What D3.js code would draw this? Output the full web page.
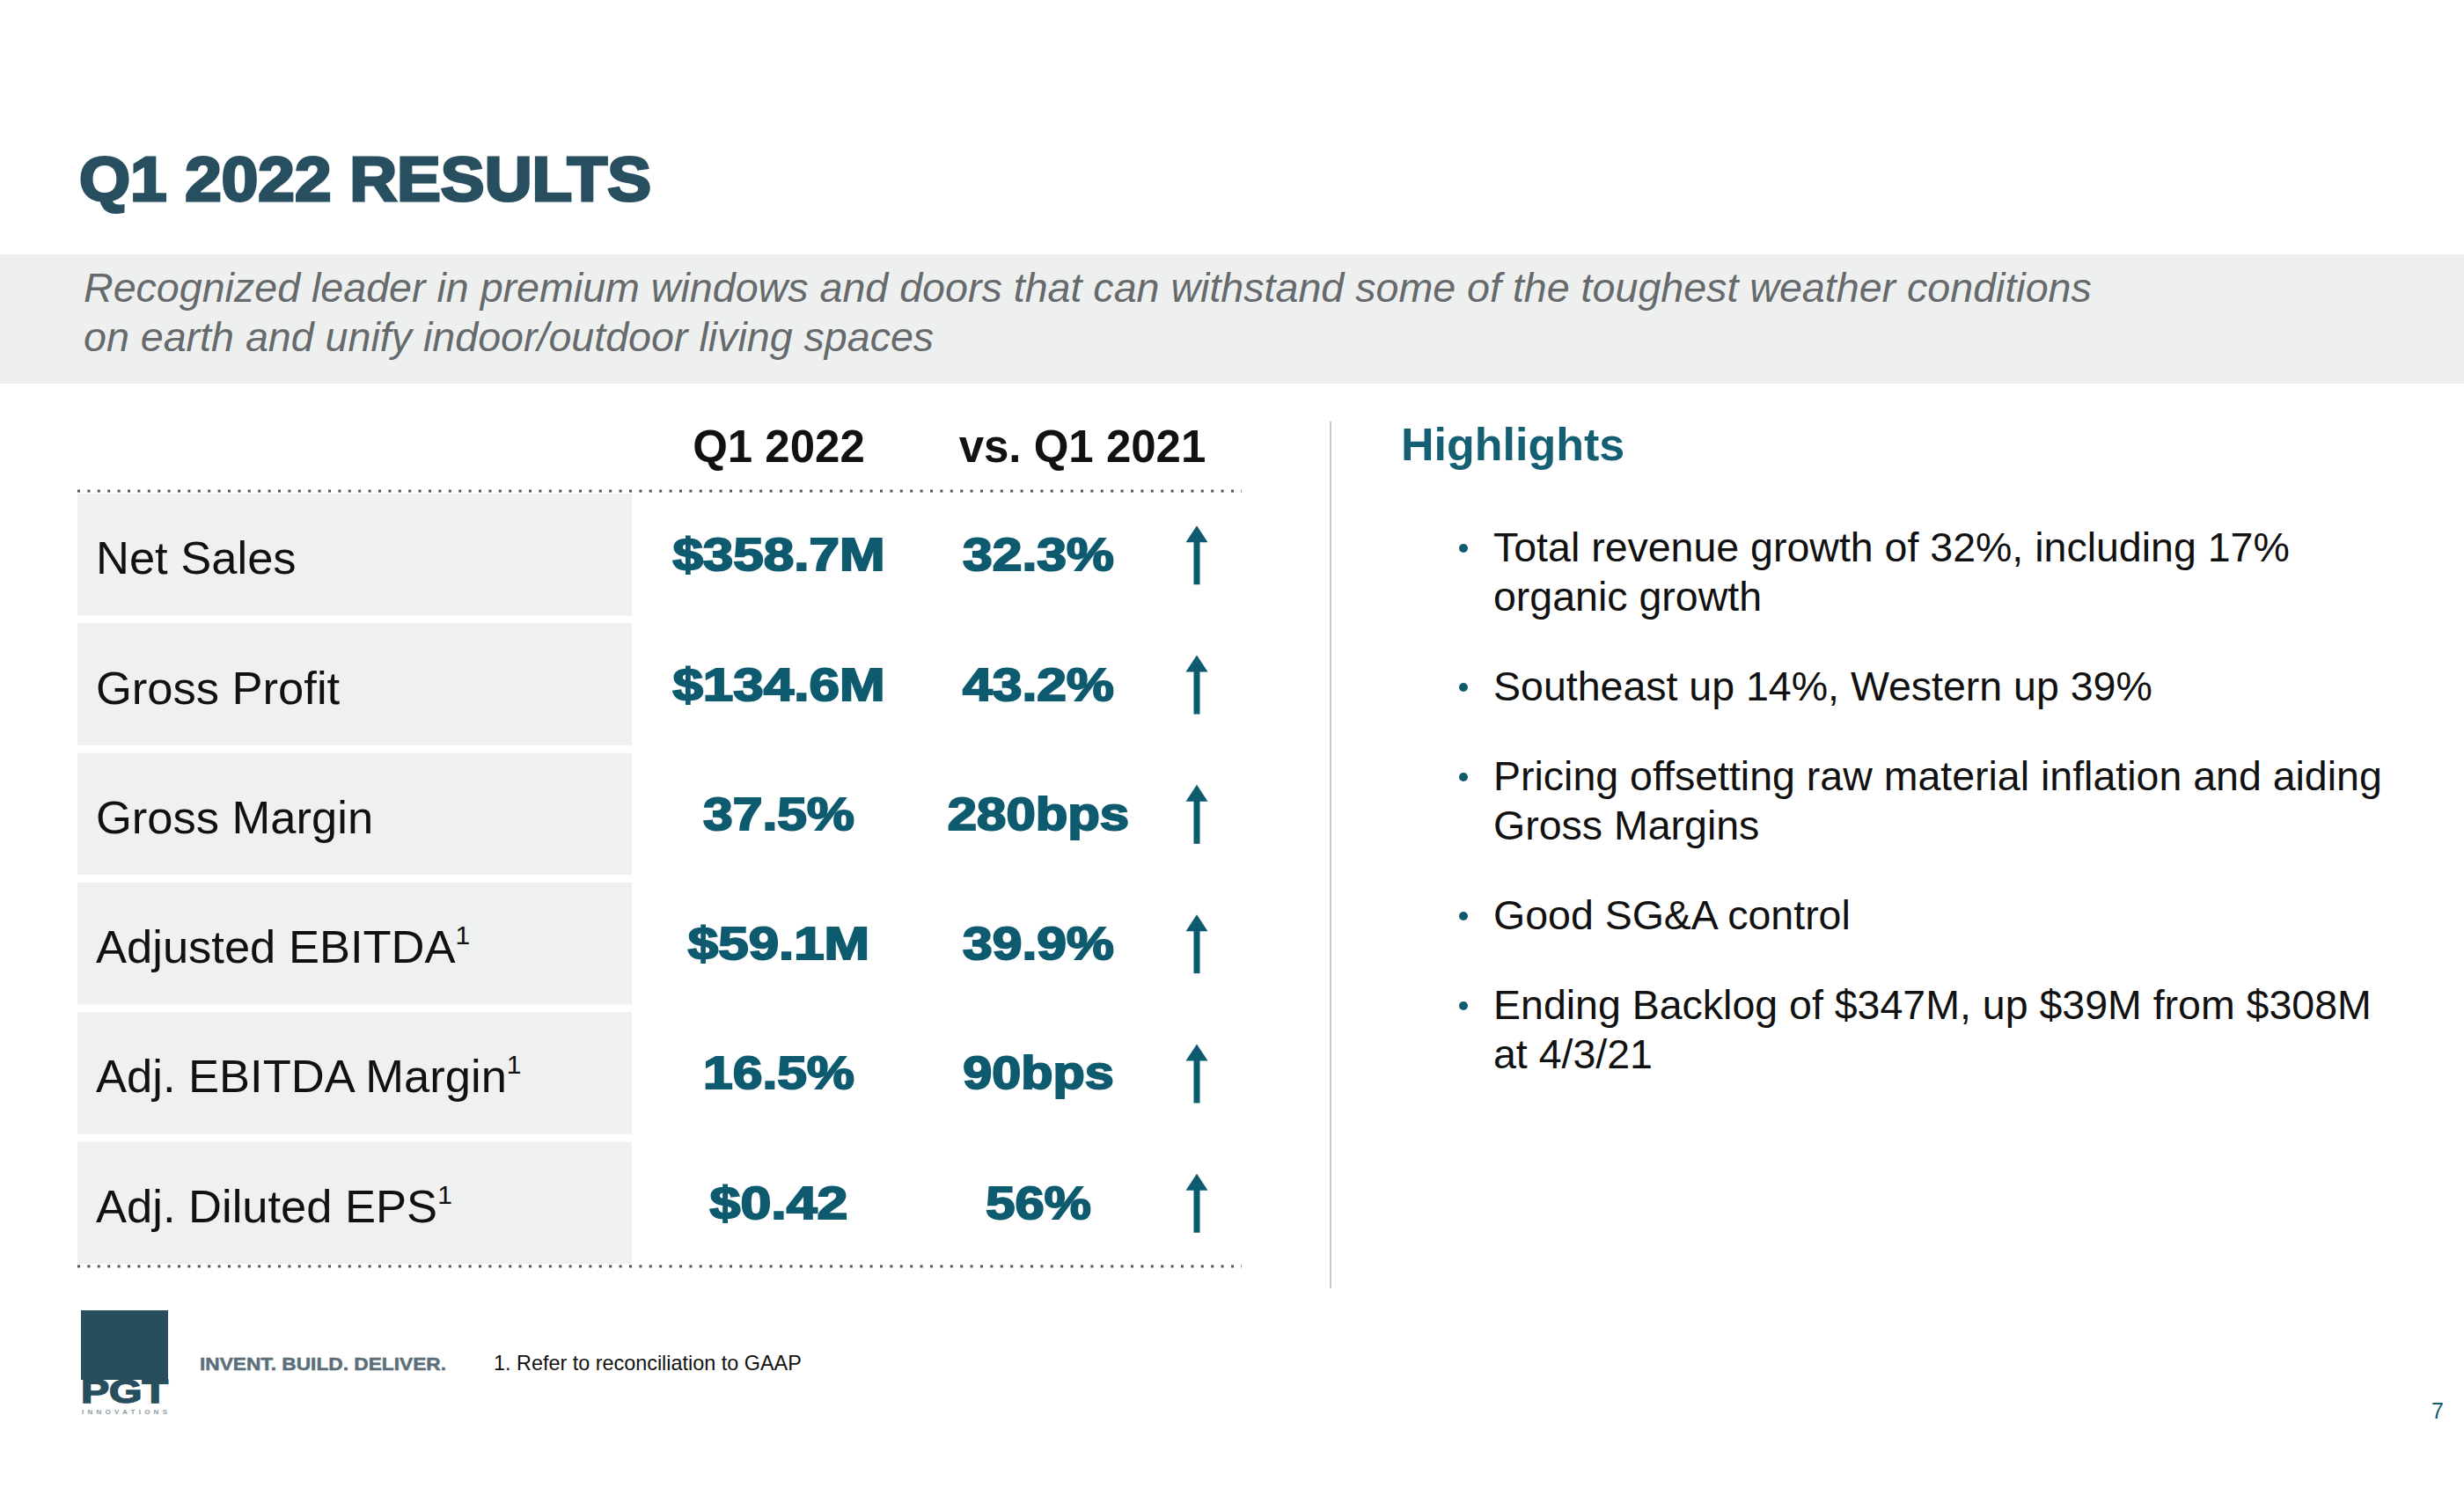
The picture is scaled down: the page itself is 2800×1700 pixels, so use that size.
<!DOCTYPE html>
<html>
<head>
<meta charset="utf-8">
<script src="https://cdn.jsdelivr.net/npm/d3@7"></script>
<style>
  html, body { margin: 0; padding: 0; background: #ffffff; }
  svg { display: block; }
</style>
</head>
<body>
<script>
// ---------- DATA ----------
const title = "Q1 2022 RESULTS";
const subtitleLines = [
  "Recognized leader in premium windows and doors that can withstand some of the toughest weather conditions",
  "on earth and unify indoor/outdoor living spaces"
];
const columnHeaders = ["Q1 2022", "vs. Q1 2021"];
const metrics = ["Net Sales", "Gross Profit", "Gross Margin", "Adjusted EBITDA", "Adj. EBITDA Margin", "Adj. Diluted EPS"];
const footnoteFlags = [false, false, false, true, true, true];
const q1Values = ["$358.7M", "$134.6M", "37.5%", "$59.1M", "16.5%", "$0.42"];
const vsValues = ["32.3%", "43.2%", "280bps", "39.9%", "90bps", "56%"];
const direction = ["up", "up", "up", "up", "up", "up"];
const highlightsTitle = "Highlights";
const highlights = [
  ["Total revenue growth of 32%, including 17%", "organic growth"],
  ["Southeast up 14%, Western up 39%"],
  ["Pricing offsetting raw material inflation and aiding", "Gross Margins"],
  ["Good SG&A control"],
  ["Ending Backlog of $347M, up $39M from $308M", "at 4/3/21"]
];
const footnote = "1. Refer to reconciliation to GAAP";
const tagline = "INVENT. BUILD. DELIVER.";
const pageNumber = "7";

// ---------- STYLE ----------
const W = 2800, H = 1700;
const teal = "#0e5a6f";
const titleColor = "#274f5f";
const font = "'Liberation Sans', Arial, Helvetica, sans-serif";

// approximate heavy ("black") glyph advance widths, em units, to emulate a wide heavy face
const heavyAdv = { "$": .667, ".": .333, "%": .95, "M": .944, "b": .667, "p": .667, "s": .611 };
const heavyWidth = (s, size) => s.split("").reduce((a, c) => a + (heavyAdv[c] !== undefined ? heavyAdv[c] : .667), 0) * size;

const svg = d3.select("body").append("svg")
  .attr("width", W).attr("height", H)
  .attr("viewBox", `0 0 ${W} ${H}`)
  .style("font-family", font);

svg.append("rect").attr("width", W).attr("height", H).attr("fill", "#fff");

// Title
svg.append("text")
  .attr("x", 90).attr("y", 228)
  .attr("font-size", 70).attr("font-weight", 700)
  .attr("fill", titleColor).attr("stroke", titleColor).attr("stroke-width", 3)
  .attr("textLength", 650).attr("lengthAdjust", "spacingAndGlyphs")
  .text(title);

// Subtitle band
svg.append("rect").attr("x", 0).attr("y", 289).attr("width", W).attr("height", 147).attr("fill", "#eef0f0");
svg.append("g").selectAll("text").data(subtitleLines).join("text")
  .attr("x", 95).attr("y", (d, i) => 343 + i * 56)
  .attr("font-size", 46.6).attr("font-style", "italic").attr("fill", "#666a6c")
  .text(d => d);

// ---------- TABLE ----------
const yRow = d3.scaleBand().domain(metrics).range([561, 1436]).paddingInner(0.06).paddingOuter(0);
const xCol = d3.scaleOrdinal().domain(["label", "q1", "vs", "arrow"]).range([109, 885, 1180, 1360]);
const headerX = [885, 1230];
const boxX0 = 88, boxX1 = 718, lineX0 = 88, lineX1 = 1411;

// headers
svg.append("g").selectAll("text").data(columnHeaders).join("text")
  .attr("x", (d, i) => headerX[i])
  .attr("y", 525)
  .attr("text-anchor", "middle")
  .attr("font-size", 51).attr("font-weight", 700).attr("fill", "#111")
  .text(d => d);

// dotted rules
[558, 1439].forEach(y => {
  svg.append("line")
    .attr("x1", lineX0).attr("x2", lineX1).attr("y1", y).attr("y2", y)
    .attr("stroke", "#555").attr("stroke-width", 3)
    .attr("stroke-dasharray", "3,8.4");
});

const rows = svg.append("g").selectAll("g").data(metrics).join("g")
  .attr("transform", d => `translate(0,${yRow(d)})`);

const bw = yRow.bandwidth();

rows.append("rect")
  .attr("x", boxX0).attr("y", 0)
  .attr("width", boxX1 - boxX0).attr("height", bw)
  .attr("fill", "#eff0f0");

const lbl = rows.append("text")
  .attr("x", xCol("label")).attr("y", bw / 2 + 22)
  .attr("font-size", 52.5).attr("fill", "#111");
lbl.append("tspan").text(d => d);
lbl.filter((d, i) => footnoteFlags[i]).append("tspan")
  .attr("font-size", 30).attr("dy", -21).text("1");

const valSize = 52.3;
rows.append("text")
  .attr("x", xCol("q1")).attr("y", bw / 2 + 18)
  .attr("text-anchor", "middle")
  .attr("font-size", 51).attr("font-weight", 700)
  .attr("fill", teal).attr("stroke", teal).attr("stroke-width", 2)
  .attr("textLength", (d, i) => heavyWidth(q1Values[i], valSize))
  .attr("lengthAdjust", "spacingAndGlyphs")
  .text((d, i) => q1Values[i]);

rows.append("text")
  .attr("x", xCol("vs")).attr("y", bw / 2 + 18)
  .attr("text-anchor", "middle")
  .attr("font-size", 51).attr("font-weight", 700)
  .attr("fill", teal).attr("stroke", teal).attr("stroke-width", 2)
  .attr("textLength", (d, i) => heavyWidth(vsValues[i], valSize))
  .attr("lengthAdjust", "spacingAndGlyphs")
  .text((d, i) => vsValues[i]);

// arrows
const arrowRows = rows.filter((d, i) => direction[i] === "up");
const ax = xCol("arrow");
arrowRows.append("rect")
  .attr("x", ax - 3.5).attr("y", bw / 2 - 20)
  .attr("width", 7).attr("height", 54)
  .attr("fill", teal);
arrowRows.append("path")
  .attr("d", `M${ax},${bw / 2 - 33} L${ax + 12.5},${bw / 2 - 14} L${ax - 12.5},${bw / 2 - 14} Z`)
  .attr("fill", teal);

// separator
svg.append("line").attr("x1", 1512).attr("x2", 1512).attr("y1", 479).attr("y2", 1464)
  .attr("stroke", "#cdcab9").attr("stroke-width", 2);

// ---------- HIGHLIGHTS ----------
svg.append("text")
  .attr("x", 1592).attr("y", 523)
  .attr("font-size", 52).attr("font-weight", 700).attr("fill", "#145f73")
  .text(highlightsTitle);

let yb = 638;
const lineH = 56, paraGap = 102;
const hl = svg.append("g");
highlights.forEach(lines => {
  hl.append("circle").attr("cx", 1663).attr("cy", yb - 15).attr("r", 5).attr("fill", teal);
  lines.forEach((ln, j) => {
    hl.append("text")
      .attr("x", 1697).attr("y", yb + j * lineH)
      .attr("font-size", 46.5).attr("fill", "#111")
      .text(ln);
  });
  yb = yb + (lines.length - 1) * lineH + paraGap;
});

// ---------- FOOTER ----------
const logoColor = "#274e5c";
svg.append("rect").attr("x", 92).attr("y", 1489).attr("width", 99).attr("height", 79).attr("fill", logoColor);
svg.append("text")
  .attr("x", 92).attr("y", 1594)
  .attr("font-size", 36).attr("font-weight", 700).attr("fill", logoColor)
  .attr("stroke", logoColor).attr("stroke-width", 1.5)
  .attr("textLength", 99).attr("lengthAdjust", "spacingAndGlyphs")
  .text("PGT");
svg.append("text")
  .attr("x", 93).attr("y", 1607)
  .attr("font-size", 8).attr("font-weight", 700).attr("fill", "#8a9aa2")
  .attr("textLength", 97).attr("lengthAdjust", "spacing")
  .text("INNOVATIONS");

svg.append("text")
  .attr("x", 227).attr("y", 1557)
  .attr("font-size", 21).attr("font-weight", 700).attr("fill", "#5a6f7a")
  .attr("stroke", "#5a6f7a").attr("stroke-width", 0.5)
  .attr("textLength", 280).attr("lengthAdjust", "spacingAndGlyphs")
  .text(tagline);

svg.append("text")
  .attr("x", 561).attr("y", 1557)
  .attr("font-size", 23.4).attr("fill", "#111")
  .text(footnote);

svg.append("text")
  .attr("x", 2777).attr("y", 1612).attr("text-anchor", "end")
  .attr("font-size", 25).attr("fill", teal)
  .text(pageNumber);
</script>
</body>
</html>
